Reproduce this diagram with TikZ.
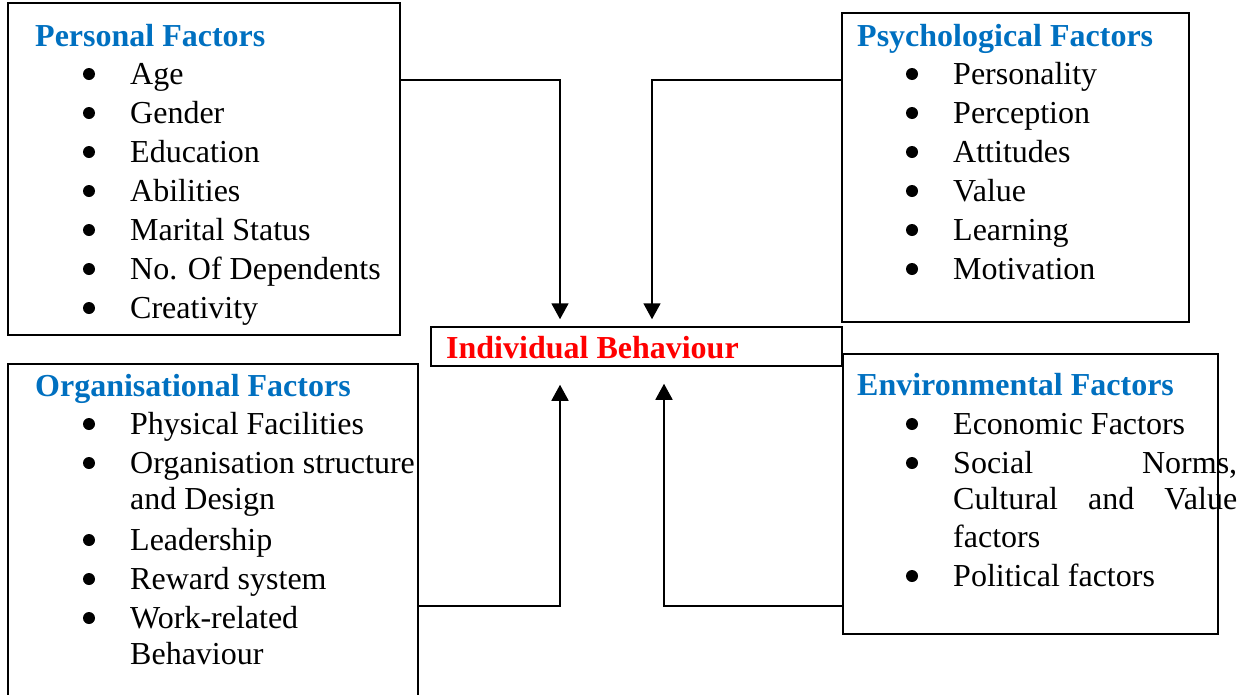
\documentclass[tikz,border=0pt]{standalone}
\usepackage{fontspec}
\setmainfont{Liberation Serif}
\usetikzlibrary{arrows.meta}
\definecolor{titleblue}{RGB}{0,112,192}
\definecolor{ibred}{RGB}{255,0,0}
\newcommand{\bigtext}{\fontsize{32}{38}\selectfont}
\tikzset{
  box/.style={draw=black, line width=1.5pt, rectangle, inner sep=0pt},
  heading/.style={anchor=base west, inner sep=0pt, font=\bigtext\bfseries, text=titleblue},
  item/.style={anchor=base west, inner sep=0pt, font=\bigtext},
  dot/.style={circle, fill=black, inner sep=0pt, minimum size=12pt, yshift=10pt},
  link/.style={draw=black, line width=1.8pt, line join=miter,
               -{Triangle[width=17pt,length=16pt]}}
}
\begin{document}
\begin{tikzpicture}[x=1pt,y=-1pt]
\useasboundingbox (0,0) rectangle (1245,694);
\clip (0,0) rectangle (1245,694);

% frames
\node[box, minimum width=392pt, minimum height=332pt] (personal) at (204,169) {};
\node[box, minimum width=347pt, minimum height=309pt] (psych) at (1015.5,167.5) {};
\node[box, minimum width=410pt, minimum height=346pt] (org) at (213,537) {};
\node[box, minimum width=375pt, minimum height=280pt] (env) at (1030.5,494) {};
\node[box, minimum width=411pt, minimum height=39pt] (ib) at (636.5,346.5) {};
\node[anchor=base west, inner sep=0pt, font=\bigtext\bfseries, text=ibred] (iblabel) at (446,358) {Individual Behaviour};

% personal factors
\node[heading] (personal-title) at (35,46) {Personal Factors};
\foreach \t [count=\i] in {Age,Gender,Education,Abilities,Marital Status,No. Of Dependents,Creativity} {
  \node[dot] (personal-dot\i) at (89,{45+39*\i}) {};
  \node[item] (personal-item\i) at (130,{45+39*\i}) {\t};
}

% psychological factors
\node[heading] (psych-title) at (857,46) {Psychological Factors};
\foreach \t [count=\i] in {Personality,Perception,Attitudes,Value,Learning,Motivation} {
  \node[dot] (psych-dot\i) at (912,{45+39*\i}) {};
  \node[item] (psych-item\i) at (953,{45+39*\i}) {\t};
}

% organisational factors
\node[heading] (org-title) at (35,396) {Organisational Factors};
\node[dot] (org-dot1) at (89,434) {};
\node[item] (org-item1) at (130,434) {Physical Facilities};
\node[dot] (org-dot2) at (89,473) {};
\node[item] (org-item2a) at (130,473) {Organisation structure};
\node[item] (org-item2b) at (130,509) {and Design};
\node[dot] (org-dot3) at (89,550) {};
\node[item] (org-item3) at (130,550) {Leadership};
\node[dot] (org-dot4) at (89,589) {};
\node[item] (org-item4) at (130,589) {Reward system};
\node[dot] (org-dot5) at (89,628) {};
\node[item] (org-item5a) at (130,628) {Work-related};
\node[item] (org-item5b) at (130,664) {Behaviour};

% environmental factors
\node[heading] (env-title) at (857,395) {Environmental Factors};
\node[dot] (env-dot1) at (912,434) {};
\node[item] (env-item1) at (953,434) {Economic Factors};
\node[dot] (env-dot2) at (912,473) {};
\node[item] (env-item2a) at (953,473) {\hbox to 284pt{Social\hfill Norms,}};
\node[item] (env-item2b) at (953,509) {\hbox to 284pt{Cultural\hfill and\hfill Value}};
\node[item] (env-item2c) at (953,547) {factors};
\node[dot] (env-dot3) at (912,586) {};
\node[item] (env-item3) at (953,586) {Political factors};

% connectors into the central box
\coordinate (pa) at (560,80);
\coordinate (qa) at (652,80);
\coordinate (ra) at (560,606);
\coordinate (sa) at (664,606);
\draw[link, shorten >=7pt] (personal.east |- pa) -- (pa) -- (pa |- ib.north);
\draw[link, shorten >=7pt] (psych.west |- qa) -- (qa) -- (qa |- ib.north);
\draw[link, shorten >=18pt] (org.east |- ra) -- (ra) -- (ra |- ib.south);
\draw[link, shorten >=17pt] (env.west |- sa) -- (sa) -- (sa |- ib.south);
\end{tikzpicture}
\end{document}
